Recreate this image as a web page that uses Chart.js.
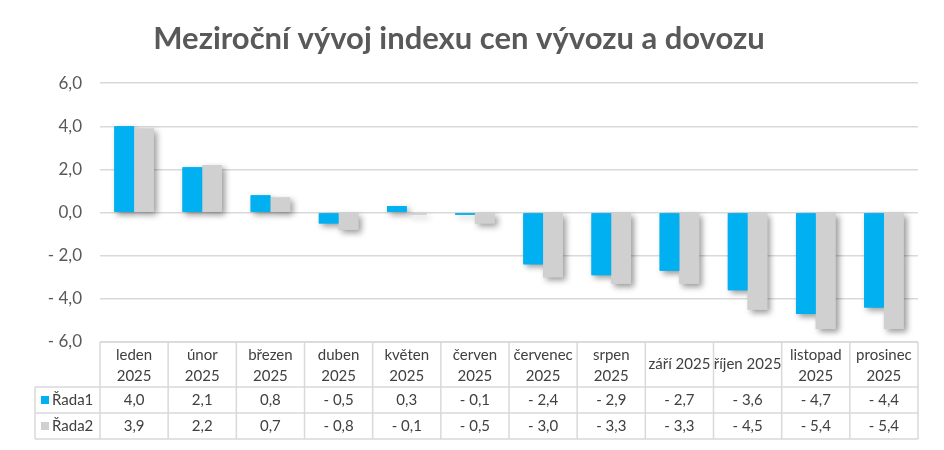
<!DOCTYPE html>
<html>
<head>
<meta charset="utf-8">
<script src="https://cdn.jsdelivr.net/npm/chart.js"></script>
<style>
  body { margin: 0; background: #fff; }
  #wrap { width: 944px; height: 450px; }
</style>
</head>
<body>
<div id="wrap"><canvas id="indexChart"></canvas></div>
<script>
const months = [
  ['leden', '2025'], ['únor', '2025'], ['březen', '2025'], ['duben', '2025'],
  ['květen', '2025'], ['červen', '2025'], ['červenec', '2025'], ['srpen', '2025'],
  ['září 2025'], ['říjen 2025'], ['listopad', '2025'], ['prosinec', '2025']
];
const series1 = [4.0, 2.1, 0.8, -0.5, 0.3, -0.1, -2.4, -2.9, -2.7, -3.6, -4.7, -4.4];
const series2 = [3.9, 2.2, 0.7, -0.8, -0.1, -0.5, -3.0, -3.3, -3.3, -4.5, -5.4, -5.4];
const seriesNames = ['Řada1', 'Řada2'];
const yTicks = [-6, -4, -2, 0, 2, 4, 6];

const blue = '#00B0F0';
const grey = '#D0D0D0';
const lineCol = '#D9D9D9';
const font = 'Lato, "Open Sans", sans-serif';

function fmt(v) {
  return (v < 0 ? '- ' : '') + Math.abs(v).toFixed(1).replace('.', ',');
}

// soft drop shadow: paint every bar's shadow first, then let the bars draw on top
const barShadow = {
  id: 'barShadow',
  beforeDatasetsDraw(chart) {
    const ctx = chart.ctx;
    ctx.save();
    ctx.shadowColor = 'rgba(0,0,0,0.4)';
    ctx.shadowBlur = 6;
    ctx.shadowOffsetX = 3;
    ctx.shadowOffsetY = 3;
    chart.data.datasets.forEach((ds, i) => {
      const meta = chart.getDatasetMeta(i);
      ctx.fillStyle = ds.backgroundColor;
      meta.data.forEach(bar => {
        const p = bar.getProps(['x', 'y', 'base', 'width'], true);
        ctx.fillRect(p.x - p.width / 2, Math.min(p.y, p.base), p.width, Math.abs(p.base - p.y));
      });
    });
    ctx.restore();
  }
};

// data table under the plot
const dataTable = {
  id: 'dataTable',
  afterDraw(chart) {
    const ctx = chart.ctx;
    const area = chart.chartArea;
    const x = chart.scales.x;
    const colW = area.width / months.length;
    const top = area.bottom;
    const r1 = top + 45, r2 = r1 + 26, r3 = r2 + 26;
    const legendLeft = 35;

    ctx.save();
    ctx.strokeStyle = lineCol;
    ctx.lineWidth = 1.5;
    ctx.beginPath();
    ctx.moveTo(area.left, top); ctx.lineTo(area.right, top);
    [r1, r2, r3].forEach(y => { ctx.moveTo(legendLeft, y); ctx.lineTo(area.right, y); });
    for (let k = 0; k <= months.length; k++) {
      const xx = area.left + k * colW;
      ctx.moveTo(xx, top); ctx.lineTo(xx, r3);
    }
    ctx.moveTo(legendLeft, r1); ctx.lineTo(legendLeft, r3);
    ctx.stroke();

    ctx.fillStyle = '#404040';
    ctx.font = '15px ' + font;
    ctx.textAlign = 'center';
    ctx.textBaseline = 'middle';
    months.forEach((lines, i) => {
      const cx = x.getPixelForValue(i);
      if (lines.length === 1) {
        ctx.fillText(lines[0], cx, (top + r1) / 2);
      } else {
        ctx.fillText(lines[0], cx, top + 13);
        ctx.fillText(lines[1], cx, top + 34);
      }
      ctx.fillText(fmt(series1[i]), cx, (r1 + r2) / 2);
      ctx.fillText(fmt(series2[i]), cx, (r2 + r3) / 2);
    });

    // legend keys
    ctx.textAlign = 'left';
    [[blue, (r1 + r2) / 2], [grey, (r2 + r3) / 2]].forEach(([c, y], j) => {
      ctx.fillStyle = c;
      ctx.fillRect(41, y - 4, 8, 8);
      ctx.fillStyle = '#404040';
      ctx.fillText(seriesNames[j], 52, y);
    });
    ctx.restore();
  }
};

function build() {
  new Chart(document.getElementById('indexChart'), {
    type: 'bar',
    data: {
      labels: months,
      datasets: [
        { label: seriesNames[0], data: series1, backgroundColor: blue,
          categoryPercentage: 0.58, barPercentage: 1.0 },
        { label: seriesNames[1], data: series2, backgroundColor: grey,
          categoryPercentage: 0.58, barPercentage: 1.0 }
      ]
    },
    options: {
      responsive: true,
      maintainAspectRatio: false,
      animation: false,
      layout: { padding: { left: 0, right: 26, top: 0, bottom: 108 } },
      plugins: {
        legend: { display: false },
        tooltip: { enabled: false },
        title: {
          display: true,
          text: 'Meziroční vývoj indexu cen vývozu a dovozu',
          color: '#595959',
          font: { family: font, size: 31, weight: 'bold' },
          padding: { top: 20, bottom: 26 }
        }
      },
      scales: {
        x: { display: false },
        y: {
          min: -6,
          max: 6,
          afterFit(scale) { scale.width = 100; },
          afterBuildTicks(scale) { scale.ticks = yTicks.map(v => ({ value: v })); },
          border: { display: false },
          grid: { color: lineCol, lineWidth: 1.5, drawTicks: false },
          ticks: {
            padding: 18,
            color: '#595959',
            font: { family: font, size: 17 },
            callback: v => fmt(v)
          }
        }
      }
    },
    plugins: [barShadow, dataTable]
  });
}

if (document.fonts && document.fonts.load) {
  Promise.all([document.fonts.load('15px Lato'), document.fonts.load('bold 31px Lato')])
    .then(build, build);
} else {
  build();
}
</script>
</body>
</html>
